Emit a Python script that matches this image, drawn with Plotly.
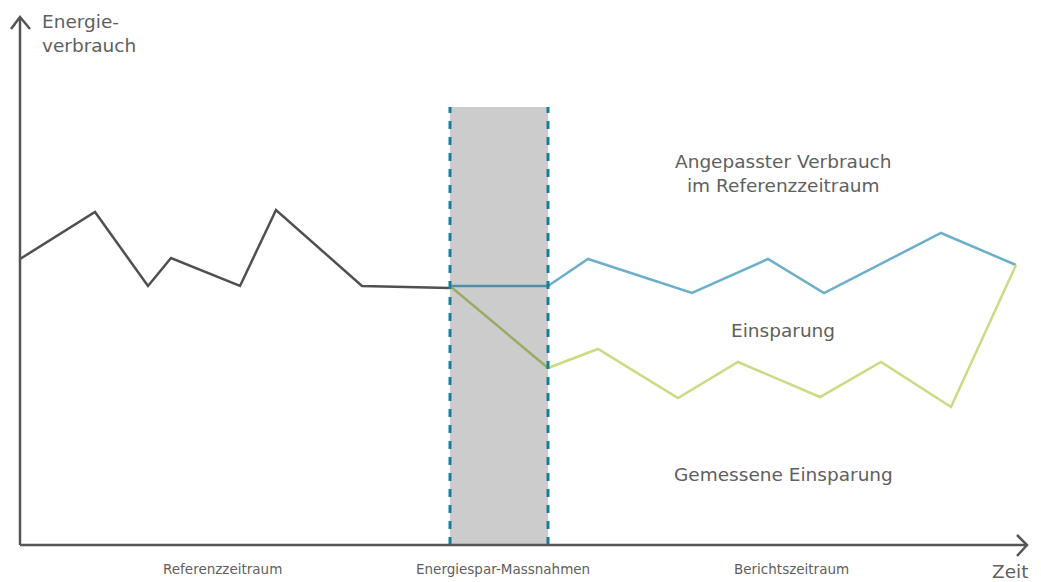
import plotly.graph_objects as go

# Reference period (measured consumption)
ref_x = [0, 75, 128, 151, 220, 256, 342, 430]
ref_y = [286, 333, 259, 287, 259, 335, 259, 257]

# Adjusted consumption (baseline projected)
adj_x = [430, 528, 568, 672, 748, 804, 921, 996]
adj_y = [259, 259, 286, 252, 286, 252, 312, 280]

# Measured consumption after measures
mea_x = [430, 528, 578, 658, 718, 800, 861, 931, 996]
mea_y = [259, 177, 196, 147, 183, 148, 183, 138, 280]

measure_start, measure_end = 430, 528
measure_top = 438

labels_x = [202, 483, 771]
labels = ["Referenzzeitraum", "Energiespar-Massnahmen", "Berichtszeitraum"]

AX = "#555555"
TX = "#606060"
FONT = "DejaVu Sans"
BIG = 18.5
SMALL = 13.5

fig = go.Figure()

# gray measure band
fig.add_shape(type="rect", x0=measure_start, x1=measure_end, y0=0, y1=measure_top,
              fillcolor="#cccccc", line_width=0, layer="below")
for xv in (measure_start, measure_end):
    fig.add_shape(type="line", x0=xv, x1=xv, y0=0, y1=measure_top,
                  line=dict(color="#13809b", width=3, dash="8px,8px"))

fig.add_trace(go.Scatter(x=ref_x, y=ref_y, mode="lines",
                         line=dict(color="#505050", width=2.5), hoverinfo="skip"))
# segments inside the band
fig.add_trace(go.Scatter(x=adj_x[:2], y=adj_y[:2], mode="lines",
                         line=dict(color="#4f8fa6", width=2.5), hoverinfo="skip"))
fig.add_trace(go.Scatter(x=mea_x[:2], y=mea_y[:2], mode="lines",
                         line=dict(color="#9aab62", width=2.5), hoverinfo="skip"))
fig.add_trace(go.Scatter(x=adj_x[1:], y=adj_y[1:], mode="lines",
                         line=dict(color="#6cafcb", width=2.5), hoverinfo="skip"))
fig.add_trace(go.Scatter(x=mea_x[1:], y=mea_y[1:], mode="lines",
                         line=dict(color="#c8dc84", width=2.5), hoverinfo="skip"))

# axes
fig.add_shape(type="line", x0=0, x1=0, y0=0, y1=527, line=dict(color=AX, width=2.5))
fig.add_shape(type="line", x0=0, x1=1006, y0=0, y1=0, line=dict(color=AX, width=2.5))
fig.add_shape(type="path", path="M -9 516 L 0 528 L 10 516", line=dict(color=AX, width=2.5))
fig.add_shape(type="path", path="M 997 10 L 1007 0 L 997 -11", line=dict(color=AX, width=2.5))

ann = []
ann.append(dict(x=20, y=536, text="Energie-<br>verbrauch", xanchor="left", yanchor="top",
                align="left", font=dict(size=BIG, color=TX, family=FONT), showarrow=False))
ann.append(dict(x=763, y=372, text="Angepasster Verbrauch<br>im Referenzzeitraum",
                xanchor="center", yanchor="middle", align="center",
                font=dict(size=BIG, color=TX, family=FONT), showarrow=False))
ann.append(dict(x=763, y=215, text="Einsparung", xanchor="center", yanchor="middle",
                font=dict(size=BIG, color=TX, family=FONT), showarrow=False))
ann.append(dict(x=763, y=71, text="Gemessene Einsparung", xanchor="center", yanchor="middle",
                font=dict(size=BIG, color=TX, family=FONT), showarrow=False))
for lx, lt in zip(labels_x, labels):
    ann.append(dict(x=lx, y=-24, text=lt, xanchor="center", yanchor="middle",
                    font=dict(size=SMALL, color=TX, family=FONT), showarrow=False))
ann.append(dict(x=990, y=-26, text="Zeit", xanchor="center", yanchor="middle",
                font=dict(size=BIG, color=TX, family=FONT), showarrow=False))

fig.update_layout(
    width=1041, height=582, margin=dict(l=0, r=0, t=0, b=0),
    paper_bgcolor="white", plot_bgcolor="white", showlegend=False,
    xaxis=dict(range=[-20, 1021], visible=False, fixedrange=True),
    yaxis=dict(range=[-37, 545], visible=False, fixedrange=True),
    annotations=ann,
)

fig.write_html("out.html", config={"displayModeBar": False},
               post_script="document.body.style.margin='0';document.body.style.overflow='hidden';")
